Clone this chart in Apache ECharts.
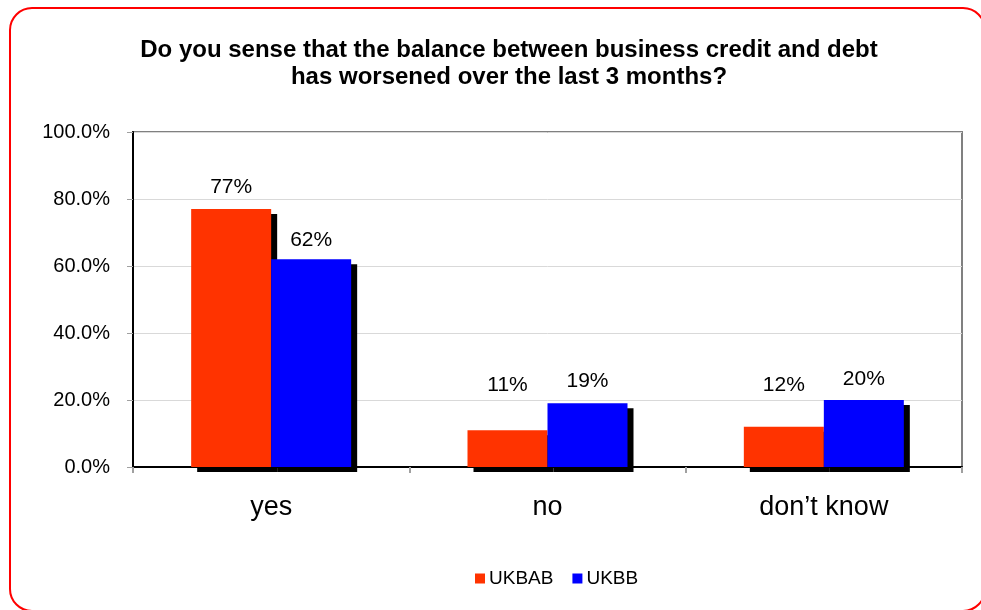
<!DOCTYPE html>
<html>
<head>
<meta charset="utf-8">
<script src="https://cdn.jsdelivr.net/npm/echarts@6/dist/echarts.min.js"></script>
<style>
  html, body { margin: 0; padding: 0; background: #fff; }
  #chart { width: 981px; height: 610px; }
</style>
</head>
<body>
<div id="chart"></div>
<script>
// Survey answers and the share of respondents per group (percent)
const categories = ['yes', 'no', 'don\u2019t know'];
const seriesNames = ['UKBAB', 'UKBB'];
const ukbab = [77, 11, 12];
const ukbb = [62, 19, 20];
const yTicks = [0, 20, 40, 60, 80, 100];

// Styling
const colors = ['#FF3300', '#0000FF'];
const labelGaps = [[11, 34, 31], [9, 12, 10]];
const FONT = 'Liberation Sans, Arial, sans-serif';

function buildSeries(name, values, color, gaps) {
  return {
    name: name,
    type: 'bar',
    barWidth: 80,
    barGap: '0%',
    itemStyle: {
      color: color,
      shadowColor: '#000',
      shadowOffsetX: 6,
      shadowOffsetY: 5,
      shadowBlur: 0
    },
    label: {
      show: true,
      position: 'top',
      color: '#000',
      fontFamily: FONT,
      fontSize: 21,
      formatter: p => p.value + '%'
    },
    data: values.map((v, i) => ({ value: v, label: { distance: gaps[i] } }))
  };
}

const chart = echarts.init(document.getElementById('chart'), null, { renderer: 'canvas' });
chart.setOption({
  animation: false,
  backgroundColor: '#fff',
  title: {
    text: 'Do you sense that the balance between business credit and debt\nhas worsened over the last 3 months?',
    left: 504,
    top: 32,
    textAlign: 'center',
    textStyle: {
      fontFamily: FONT,
      fontWeight: 'bold',
      fontSize: 24,
      lineHeight: 27,
      color: '#000'
    }
  },
  graphic: [{
    type: 'rect',
    silent: true,
    shape: { x: 10, y: 8, width: 975, height: 603, r: 22 },
    style: { fill: 'none', stroke: '#FF0000', lineWidth: 2 }
  }],
  legend: {
    left: 470,
    top: 564,
    icon: 'rect',
    itemWidth: 10,
    itemHeight: 10,
    itemGap: 19,
    textStyle: { fontFamily: FONT, fontSize: 19, color: '#000', padding: [0, 0, 0, -1] },
    data: seriesNames
  },
  grid: {
    left: 133,
    right: 19,
    top: 132,
    bottom: 143,
    show: true,
    borderColor: '#808080',
    borderWidth: 2,
    containLabel: false
  },
  xAxis: {
    type: 'category',
    data: categories,
    axisLine: { lineStyle: { color: '#000', width: 2 } },
    axisTick: { show: true, alignWithLabel: false, length: 6, lineStyle: { color: '#a0a0a0', width: 2 } },
    axisLabel: { fontFamily: FONT, fontSize: 27, color: '#000', margin: 27 }
  },
  yAxis: {
    type: 'value',
    min: yTicks[0],
    max: yTicks[yTicks.length - 1],
    interval: yTicks[1] - yTicks[0],
    axisLine: { show: true, lineStyle: { color: '#000', width: 2 } },
    axisTick: { show: true, length: 6, lineStyle: { color: '#a0a0a0', width: 1 } },
    splitLine: { show: true, lineStyle: { color: '#d9d9d9', width: 1 } },
    axisLabel: {
      fontFamily: FONT,
      fontSize: 20,
      color: '#000',
      margin: 23,
      formatter: v => v.toFixed(1) + '%'
    }
  },
  series: [
    buildSeries(seriesNames[0], ukbab, colors[0], labelGaps[0]),
    buildSeries(seriesNames[1], ukbb, colors[1], labelGaps[1])
  ]
});
</script>
</body>
</html>
